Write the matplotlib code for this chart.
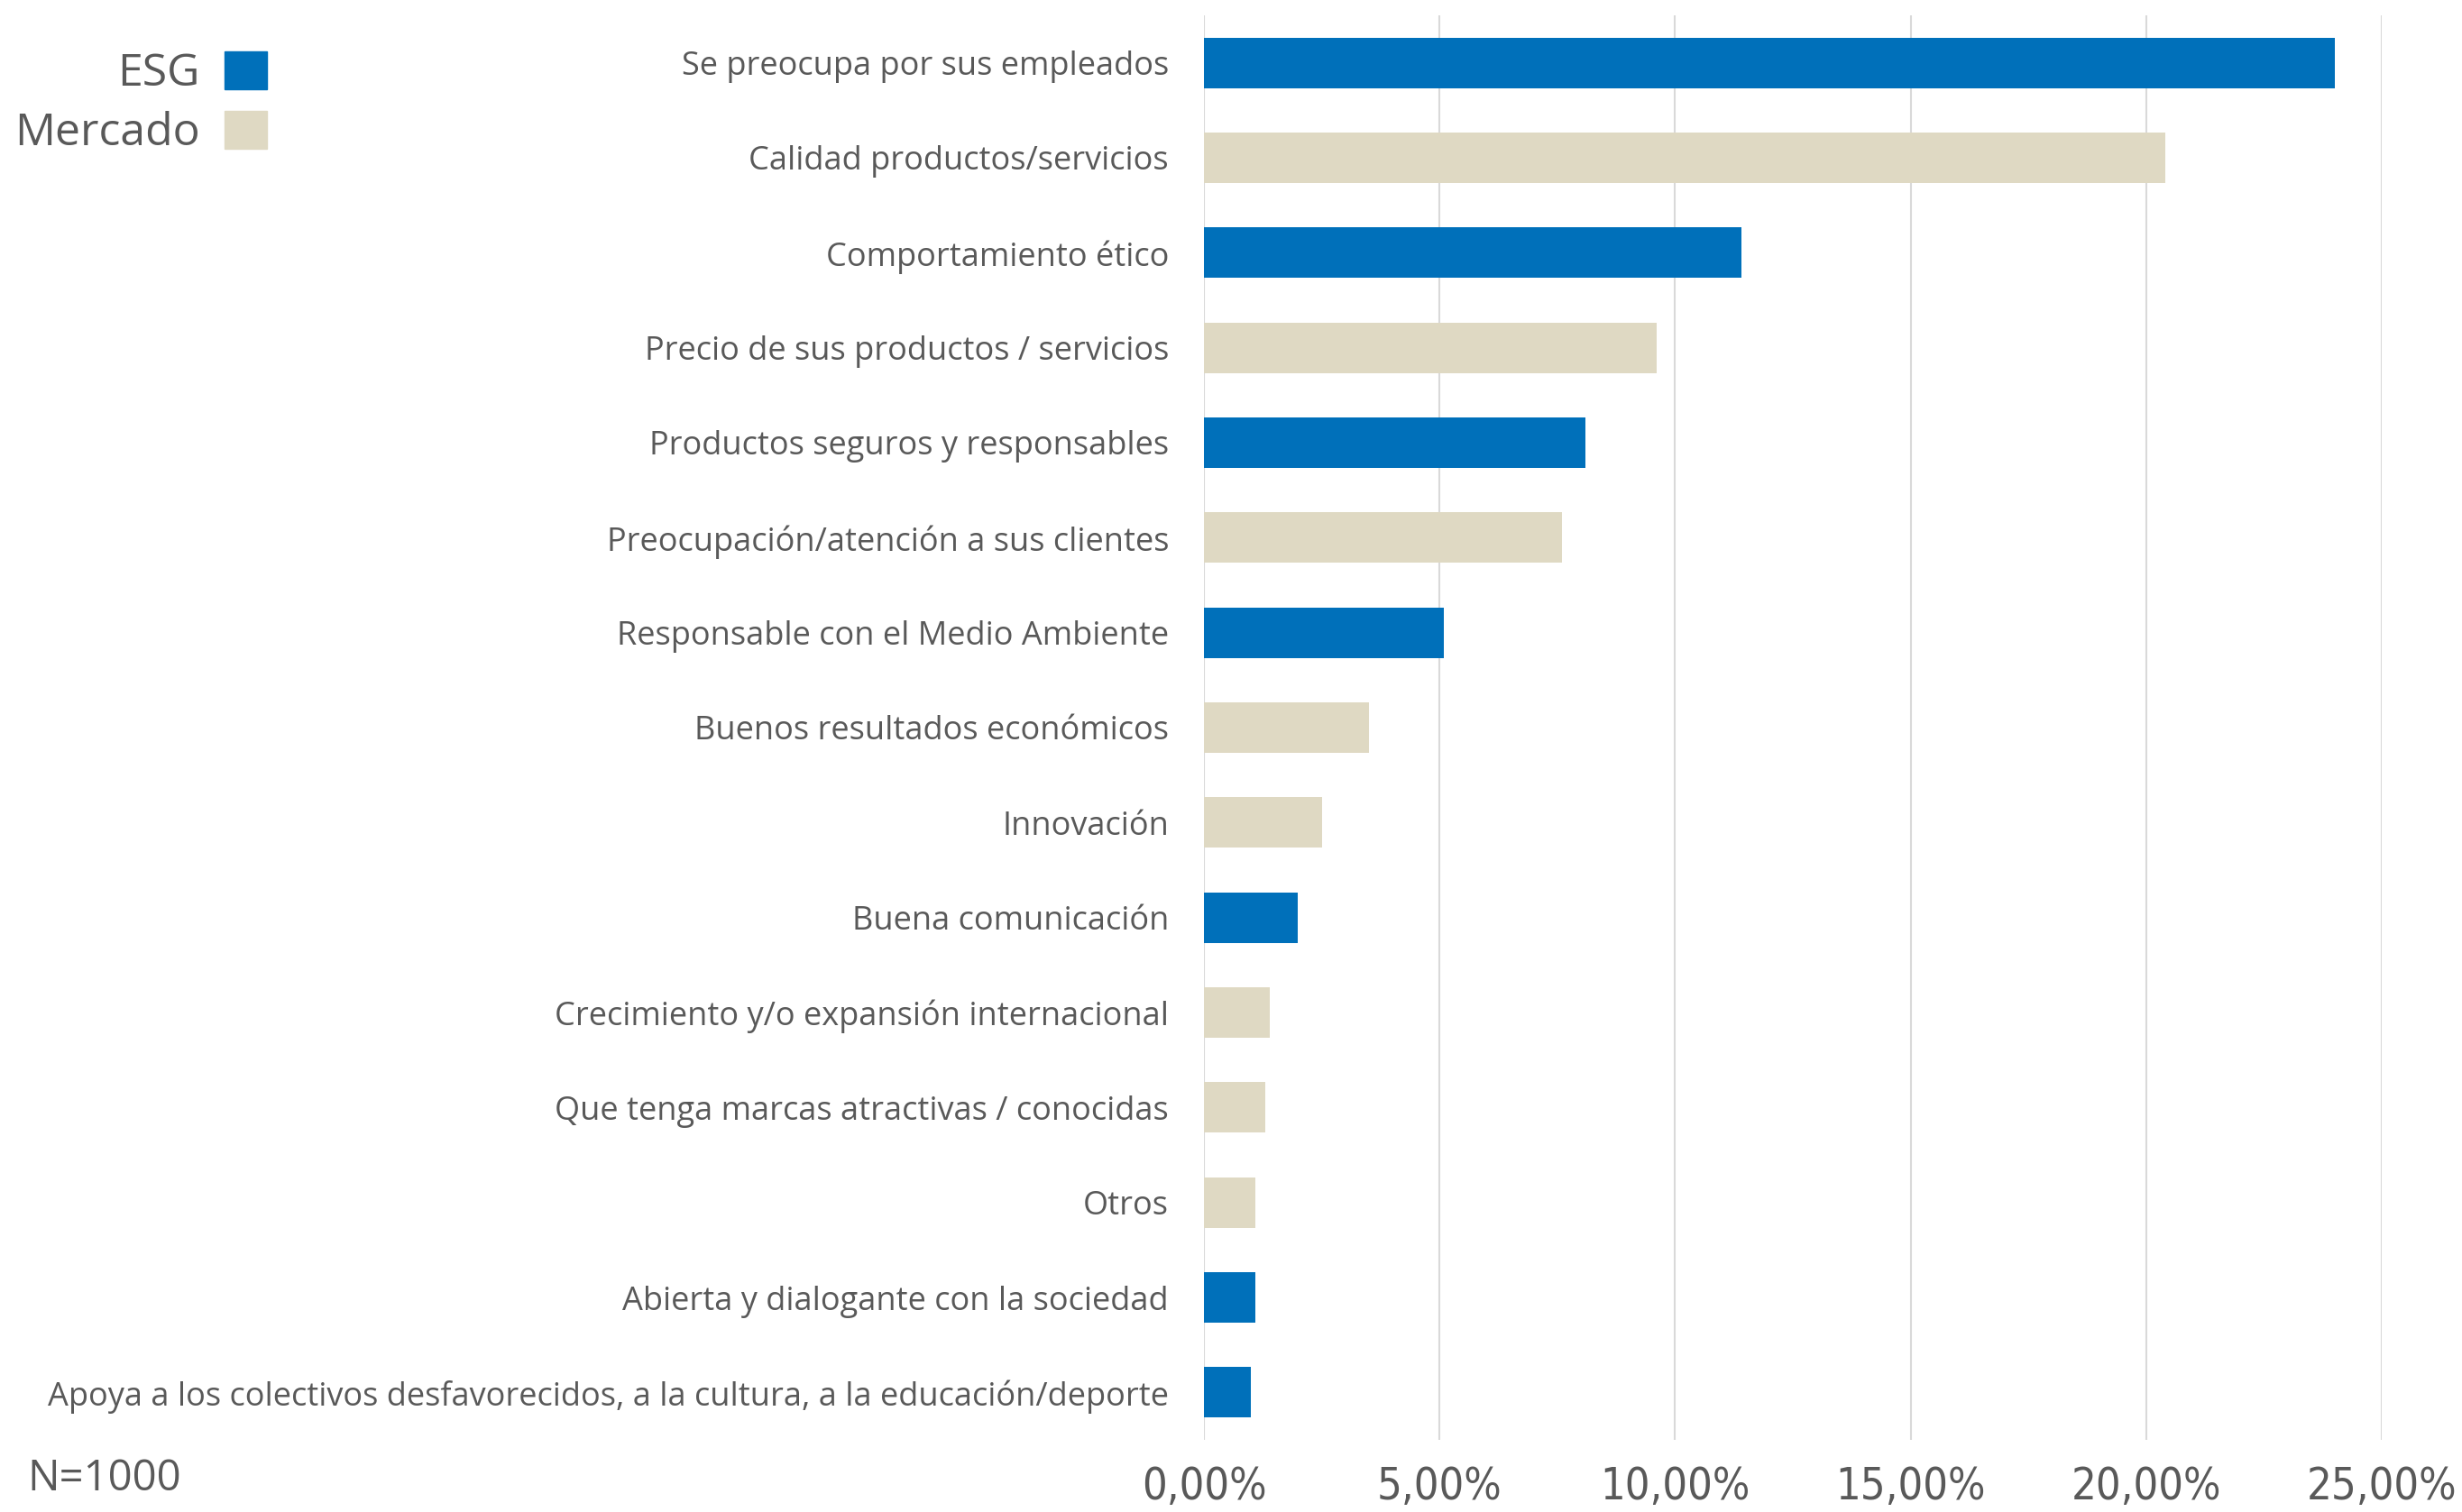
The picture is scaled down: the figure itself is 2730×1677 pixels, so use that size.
import matplotlib
matplotlib.use("Agg")
import matplotlib.pyplot as plt
from matplotlib.patches import Patch
from matplotlib.ticker import FuncFormatter

# data (share of respondents, %)
categorias = [
    "Se preocupa por sus empleados",
    "Calidad productos/servicios",
    "Comportamiento ético",
    "Precio de sus productos / servicios",
    "Productos seguros y responsables",
    "Preocupación/atención a sus clientes",
    "Responsable con el Medio Ambiente",
    "Buenos resultados económicos",
    "Innovación",
    "Buena comunicación",
    "Crecimiento y/o expansión internacional",
    "Que tenga marcas atractivas / conocidas",
    "Otros",
    "Abierta y dialogante con la sociedad",
    "Apoya a los colectivos desfavorecidos, a la cultura, a la educación/deporte",
]
valores = [24.0, 20.4, 11.4, 9.6, 8.1, 7.6, 5.1, 3.5, 2.5, 2.0, 1.4, 1.3, 1.1, 1.1, 1.0]
grupo = ["ESG", "Mercado", "ESG", "Mercado", "ESG", "Mercado", "ESG", "Mercado",
         "Mercado", "ESG", "Mercado", "Mercado", "Mercado", "ESG", "ESG"]
xticks = [0, 5, 10, 15, 20, 25]

colores = {"ESG": "#0070BA", "Mercado": "#DFD9C3"}
gris = "#595959"

plt.rcParams['font.family'] = ['Open Sans', 'DejaVu Sans']

fig = plt.figure(figsize=(27.3, 16.77), dpi=100)
ax = fig.add_axes([0.489, 0.0477, 0.4785, 0.9422])

y = list(range(len(categorias)))
ax.barh(y, valores, height=0.53, color=[colores[g] for g in grupo])
ax.set_ylim(len(categorias) - 0.5, -0.5)
ax.set_xlim(0, 25)
ax.set_yticks(y)
ax.set_yticklabels(categorias, fontsize=26, color=gris)
ax.set_xticks(xticks)
ax.xaxis.set_major_formatter(FuncFormatter(lambda v, p: f"{v:.2f}%".replace(".", ",")))
ax.tick_params(axis="y", length=0, pad=28)
ax.tick_params(axis="x", length=0, pad=20)
for t in ax.get_xticklabels():
    t.set_fontfamily(['Liberation Sans Narrow', 'DejaVu Sans'])
    t.set_fontstretch('condensed')
    t.set_fontsize(35)
    t.set_color(gris)

ax.grid(axis="x", color="#D9D9D9", linewidth=1.5)
ax.set_axisbelow(True)
for s in ax.spines.values():
    s.set_visible(False)

# legend in the top left corner
handles = [Patch(color=colores["ESG"]), Patch(color=colores["Mercado"])]
fig.legend(handles, ["ESG", "Mercado"], loc="upper right", bbox_to_anchor=(0.1084, 0.966),
           frameon=False, fontsize=36, labelcolor=gris, markerfirst=False,
           handlelength=0.93, handleheight=0.93, handletextpad=0.55, labelspacing=0.31,
           borderpad=0, borderaxespad=0, alignment="right")

fig.text(0.011, 0.022, "N=1000", fontsize=34, color=gris, va="center")

fig.savefig("out.png", dpi=100)
